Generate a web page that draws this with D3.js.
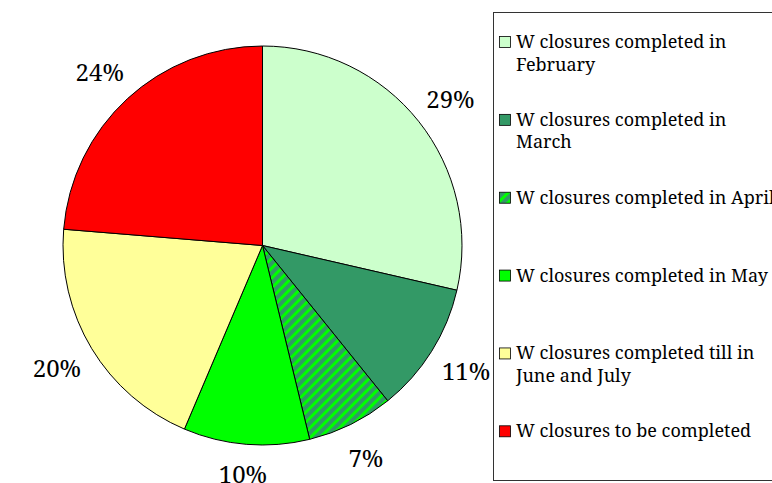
<!DOCTYPE html>
<html>
<head>
<meta charset="utf-8">
<script src="https://cdn.jsdelivr.net/npm/d3@7"></script>
<style>
  body { margin: 0; background: #fff; }
</style>
</head>
<body>
<svg></svg>
<script>
// slice data (percent)
let categories = ['February', 'March', 'April', 'May', 'June and July', 'to be completed']
let values = [28.6, 10.6, 7.0, 10.2, 19.9, 23.7]
let colors = ['#ccffcc', '#339966', 'url(#hatch)', '#00ff00', '#ffff99', '#ff0000']
let legendLines = [
        ['W closures completed in', 'February'],
        ['W closures completed in', 'March'],
        ['W closures completed in April'],
        ['W closures completed in May'],
        ['W closures completed till in', 'June and July'],
        ['W closures to be completed']
]

let width = 772
let height = 483
let cx = 262.5
let cy = 245.5
let radius = 199.5
let font = "'Noto Serif', 'Liberation Serif', serif"

let svg = d3.select('svg')
        .attr('width', width)
        .attr('height', height)

// hatched fill for April
let pattern = svg.append('defs')
        .append('pattern')
        .attr('id', 'hatch')
        .attr('patternUnits', 'userSpaceOnUse')
        .attr('width', 7)
        .attr('height', 7)
        .attr('patternTransform', 'rotate(45)')
pattern.append('rect')
        .attr('width', 7)
        .attr('height', 7)
        .attr('fill', '#339966')
pattern.append('rect')
        .attr('width', 3)
        .attr('height', 7)
        .attr('fill', '#00ff00')

let pie = d3.pie().sort(null).value(d => d)
let arcs = pie(values)
let arc = d3.arc().innerRadius(0).outerRadius(radius)

let g = svg.append('g')
        .attr('transform', 'translate(' + cx + ',' + cy + ')')

g.selectAll('path')
        .data(arcs)
        .enter()
        .append('path')
        .attr('d', arc)
        .attr('fill', (d, i) => colors[i])
        .attr('stroke', '#000')
        .attr('stroke-width', 1)

// percent labels outside the slices
let labels = g.selectAll('text.pct')
        .data(arcs)
        .enter()
        .append('text')
        .attr('class', 'pct')
        .style('font-family', font)
        .style('font-size', '24px')
        .attr('text-anchor', 'middle')
        .attr('dominant-baseline', 'central')
        .text(d => Math.round(d.data) + '%')

labels.each(function (d) {
        let a = (d.startAngle + d.endAngle) / 2
        let hw = this.getBBox().width / 2
        let x = Math.sin(a) * (216 + hw)
        // keep the label inside the picture at the bottom
        let y = Math.min(-Math.cos(a) * 236, height - cy - 10)
        d3.select(this).attr('x', x).attr('y', y)
})

// legend
svg.append('rect')
        .attr('x', 493.5)
        .attr('y', 12.5)
        .attr('width', 300)
        .attr('height', 468)
        .attr('fill', 'none')
        .attr('stroke', '#333')
        .attr('stroke-width', 1)

let legendY = d3.scaleLinear()
        .domain([0, categories.length - 1])
        .range([48, 437.3])

let items = svg.selectAll('g.item')
        .data(categories)
        .enter()
        .append('g')
        .attr('class', 'item')
        .attr('transform', (d, i) => 'translate(0,' + legendY(i) + ')')

items.append('rect')
        .attr('x', 499.5)
        .attr('y', -11.5)
        .attr('width', 11)
        .attr('height', 11)
        .attr('fill', (d, i) => colors[i])
        .attr('stroke', '#000')
        .attr('stroke-width', 0.8)

items.append('text')
        .attr('x', 516)
        .style('font-family', font)
        .style('font-size', '18px')
        .attr('fill', '#000')
        .each(function (d, i) {
                d3.select(this).selectAll('tspan')
                        .data(legendLines[i])
                        .enter()
                        .append('tspan')
                        .attr('x', 516)
                        .attr('dy', (t, j) => j === 0 ? 0 : 22.5)
                        .text(t => t)
        })
</script>
</body>
</html>
